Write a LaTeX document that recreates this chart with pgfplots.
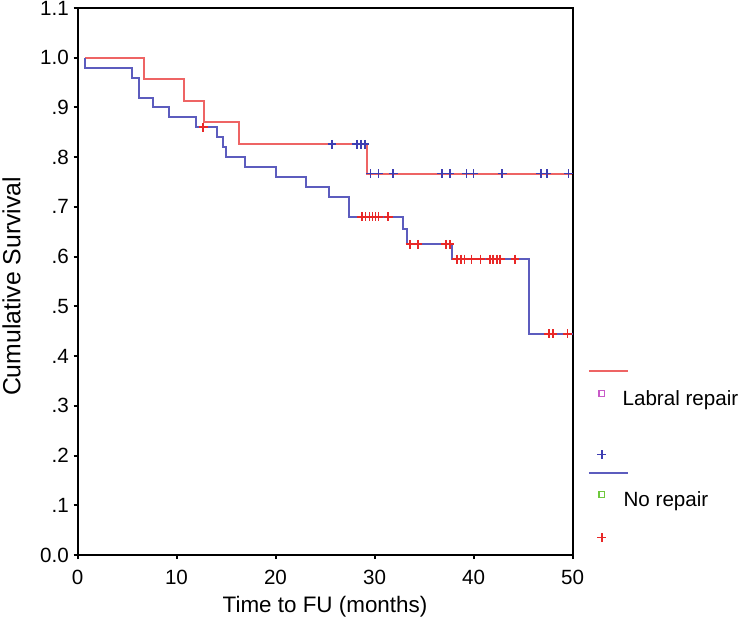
\documentclass[border=0pt]{standalone}
\usepackage{fontspec}
\setmainfont{Liberation Sans}
\usepackage{pgfplots}
\pgfplotsset{compat=1.18}
\definecolor{redline}{RGB}{238,100,100}
\definecolor{blueline}{RGB}{92,92,190}
\definecolor{bluemark}{RGB}{62,62,178}
\definecolor{redmark}{RGB}{232,40,40}
\definecolor{magsq}{RGB}{200,90,200}
\definecolor{greensq}{RGB}{110,200,60}
\begin{document}
\begin{tikzpicture}
\useasboundingbox (-38.75pt,-38pt) rectangle (332.25pt,277.5pt);
\begin{axis}[
  at={(0pt,0pt)}, anchor=south west,
  scale only axis, width=247.5pt, height=273.5pt,
  xmin=0, xmax=50, ymin=0, ymax=1.1,
  clip=false,
  axis line style={line width=1pt},
  xtick={0,10,20,30,40,50},
  ytick={0,0.1,0.2,0.3,0.4,0.5,0.6,0.7,0.8,0.9,1.0,1.1},
  yticklabels={0.0,.1,.2,.3,.4,.5,.6,.7,.8,.9,1.0,1.1},
  xtick pos=bottom, ytick pos=left, tick align=outside,
  major tick length=2pt, tick style={line width=1pt, black},
  /pgf/number format/assume math mode=true,
  ticklabel style={font=\fontsize{10.3}{12}\selectfont},
  xticklabel style={yshift=-2.1pt},
  yticklabel style={xshift=1.2pt},
  xlabel={Time to FU (months)},
  ylabel={Cumulative Survival},
  xlabel style={at={(axis description cs:0.5,0)}, anchor=center, yshift=-26pt, font=\fontsize{11.2}{13}\selectfont},
  ylabel style={at={(axis description cs:0,0.491)}, anchor=center, yshift=33pt, font=\fontsize{12.4}{14}\selectfont},
  legend style={at={(axis cs:0,0)}, anchor=north west, xshift=255pt, yshift=95pt,
    draw=none, fill=none, inner sep=0pt, row sep=0pt, column sep=-3.15pt,
    nodes={inner sep=0pt, text depth={}, text height={}},
    cells={anchor=base west},
    font=\fontsize{10.3}{12}\selectfont},
]
% legend images
\addlegendimage{legend image code/.code={\draw[redline, line width=1pt] (-6.35pt,6pt) -- (13.15pt,6pt);}}
\addlegendentry{\rule[-2pt]{0pt}{11pt}}
\addlegendimage{legend image code/.code={\path[draw=none,fill=none] (-6.35pt,6pt) -- (13.15pt,6pt); \draw[magsq, line width=0.7pt, mark=square, mark size=1.4pt] plot coordinates {(0pt,6pt)};}}
\addlegendentry{\rule[-21.5pt]{0pt}{30.5pt}Labral repair}
\addlegendimage{legend image code/.code={\path[draw=none,fill=none] (-6.35pt,6pt) -- (13.15pt,6pt); \draw[bluemark, line width=0.9pt, mark=+, mark size=2.2pt] plot coordinates {(0pt,6pt)};}}
\addlegendentry{\rule[-0.5pt]{0pt}{9.5pt}}
\addlegendimage{legend image code/.code={\draw[blueline, line width=1pt] (-6.35pt,6pt) -- (13.15pt,6pt);}}
\addlegendentry{\rule[-1.5pt]{0pt}{10.5pt}}
\addlegendimage{legend image code/.code={\path[draw=none,fill=none] (-6.35pt,6pt) -- (13.15pt,6pt); \draw[greensq, line width=0.7pt, mark=square, mark size=1.4pt] plot coordinates {(0pt,6pt)};}}
\addlegendentry{\rule[-12.5pt]{0pt}{21.5pt}\hspace{0.5pt}No repair}
\addlegendimage{legend image code/.code={\path[draw=none,fill=none] (-6.35pt,6pt) -- (13.15pt,6pt); \draw[redmark, line width=0.9pt, mark=+, mark size=2.2pt] plot coordinates {(0pt,6pt)};}}
\addlegendentry{\rule[0pt]{0pt}{9pt}}

% Labral repair (red line)
\addplot[forget plot, const plot, redline, line width=1pt] coordinates {
(0.75,1.0) (6.7,0.957) (10.75,0.913) (12.75,0.870) (16.35,0.826) (29.2,0.767) (49.9,0.767)};
% No repair (blue line)
\addplot[forget plot, const plot, blueline, line width=1pt] coordinates {
(0.75,1.0) (0.75,0.98) (5.47,0.96) (6.2,0.92) (7.6,0.90) (9.2,0.88) (12.0,0.86)
(14.05,0.84) (14.7,0.82) (15.05,0.80) (16.9,0.78) (20.05,0.76) (23.1,0.74)
(25.4,0.72) (27.4,0.68) (32.9,0.655) (33.3,0.625) (37.8,0.595) (45.6,0.445) (50.0,0.445)};
% censored, labral repair (blue +)
\addplot[forget plot, only marks, mark=+, mark size=2.2pt, bluemark, mark options={line width=0.9pt}] coordinates {
(25.7,0.826) (28.2,0.826) (28.6,0.826) (29.0,0.826)
(29.6,0.767) (30.4,0.767) (31.9,0.767) (36.8,0.767) (37.6,0.767) (39.3,0.767)
(40.0,0.767) (42.9,0.767) (46.8,0.767) (47.4,0.767) (49.6,0.767)};
% censored, no repair (red +)
\addplot[forget plot, only marks, mark=+, mark size=2.2pt, redmark, mark options={line width=0.9pt}] coordinates {
(12.7,0.86)
(28.7,0.68) (29.1,0.68) (29.5,0.68) (29.8,0.68) (30.1,0.68) (30.4,0.68) (31.4,0.68)
(33.6,0.625) (34.4,0.625) (37.2,0.625) (37.6,0.625)
(38.3,0.595) (38.7,0.595) (39.1,0.595) (39.8,0.595) (40.7,0.595) (41.7,0.595)
(42.0,0.595) (42.4,0.595) (42.7,0.595) (44.2,0.595)
(47.6,0.445) (48.0,0.445) (49.5,0.445)};
\end{axis}
\end{tikzpicture}
\end{document}
